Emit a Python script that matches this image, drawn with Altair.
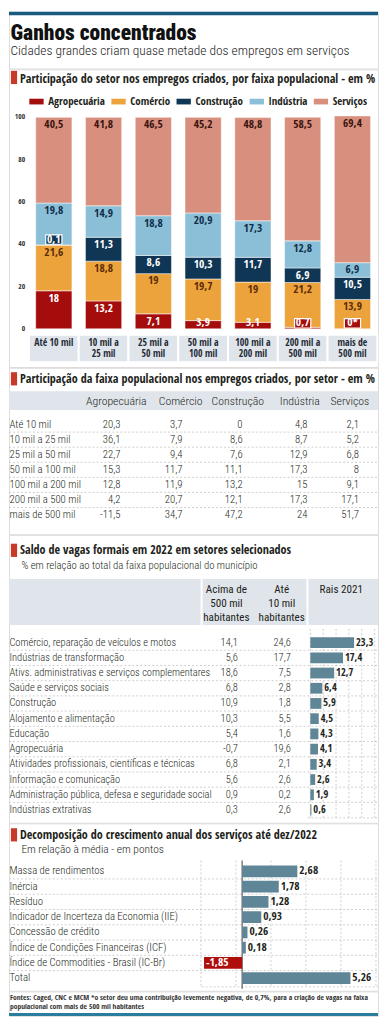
import altair as alt
import pandas as pd

# ---------------- dados ----------------
faixas = ["Até 10 mil", "10 mil a 25 mil", "25 mil a 50 mil", "50 mil a 100 mil",
          "100 mil a 200 mil", "200 mil a 500 mil", "mais de 500 mil"]
faixas_rotulo = ["Até 10 mil", "10 mil a\n25 mil", "25 mil a\n50 mil", "50 mil a\n100 mil",
                 "100 mil a\n200 mil", "200 mil a\n500 mil", "mais de\n500 mil"]
setores = ["Agropecuária", "Comércio", "Construção", "Indústria", "Serviços"]

part_agro = [18, 13.2, 7.1, 3.9, 3.1, 0.7, 0]
part_comercio = [21.6, 18.8, 19, 19.7, 19, 21.2, 13.9]
part_construcao = [0.1, 11.3, 8.6, 10.3, 11.7, 6.9, 10.5]
part_industria = [19.8, 14.9, 18.8, 20.9, 17.3, 12.8, 6.9]
part_servicos = [40.5, 41.8, 46.5, 45.2, 48.8, 58.5, 69.4]
notas_part = {("Agropecuária", "mais de 500 mil"): "*"}
eixo_y = [0, 20, 40, 60, 80, 100]

tab_agro = [20.3, 36.1, 22.7, 15.3, 12.8, 4.2, -11.5]
tab_comercio = [3.7, 7.9, 9.4, 11.7, 11.9, 20.7, 34.7]
tab_construcao = [0, 8.6, 7.6, 11.1, 13.2, 12.1, 47.2]
tab_industria = [4.8, 8.7, 12.9, 17.3, 15, 17.3, 24]
tab_servicos = [2.1, 5.2, 6.8, 8, 9.1, 17.1, 51.7]

saldo_setores = ["Comércio, reparação de veículos e motos", "Indústrias de transformação",
                 "Ativs. administrativas e serviços complementares", "Saúde e serviços sociais",
                 "Construção", "Alojamento e alimentação", "Educação", "Agropecuária",
                 "Atividades profissionais, científicas e técnicas", "Informação e comunicação",
                 "Administração pública, defesa e seguridade social", "Indústrias extrativas"]
saldo_acima_500mil = [14.1, 5.6, 18.6, 6.8, 10.9, 10.3, 5.4, -0.7, 6.8, 5.6, 0.9, 0.3]
saldo_ate_10mil = [24.6, 17.7, 7.5, 2.8, 1.8, 5.5, 1.6, 19.6, 2.1, 2.6, 0.2, 2.6]
rais_2021 = [23.3, 17.4, 12.7, 6.4, 5.9, 4.5, 4.3, 4.1, 3.4, 2.6, 1.9, 0.6]
rais_grade = [0, 6.85, 13.7, 20.55, 27.4, 34.25]

decomp_itens = ["Massa de rendimentos", "Inércia", "Resíduo", "Indicador de Incerteza da Economia (IIE)",
                "Concessão de crédito", "Índice de Condições Financeiras (ICF)",
                "Índice de Commodities - Brasil (IC-Br)", "Total"]
decomp_valores = [2.68, 1.78, 1.28, 0.93, 0.26, 0.18, -1.85, 5.26]
decomp_grade = [-2, -0.3, 1.4, 3.1, 4.8, 6.5]

# ---------------- estilo / layout ----------------
W = 371
SX = W / 387
SY = 1006 / 1022
BOLD = "Open Sans Condensed"
LIGHT = "Roboto Condensed"
TXT = "#231f20"
RED = "#c63a2a"
BAND = "#dfe5ea"
GRID = "#c4c4c4"
SLATE = "#5f8697"
NEG = "#b00d0d"
CORES = ["#a50c0c", "#eda33b", "#0f3654", "#8bbfd7", "#d88f7d"]
CORES_ROTULO = ["#ffffff", "#5b2c06", "#ffffff", "#0f2e4a", "#3a1410"]
TOPS = [0, 58, 362, 532, 826, 997, 1022]
HEAD_SIZE = 12.2


def X(x):
    return x * SX


def Y(y, top):
    return (y - top) * SY


def fmt(v):
    return f"{v:g}".replace(".", ",")


one = pd.DataFrame({"k": [0]})


def anot(texto, x, y, font=LIGHT, size=12.0, weight=300, align="left", baseline="alphabetic",
         color=TXT, lh=None):
    kw = dict(text=texto, font=font, fontSize=size, fontWeight=weight, align=align,
              baseline=baseline, color=color)
    if lh:
        kw.update(lineBreak="\n", lineHeight=lh)
    return alt.Chart(one).mark_text(**kw).encode(x=alt.value(x), y=alt.value(y))


def caixa(x0, x1, y0, y1, color):
    return alt.Chart(one).mark_rect(color=color).encode(
        x=alt.value(x0), x2=alt.value(x1), y=alt.value(y0), y2=alt.value(y1))


def linha(x0, x1, y0, y1, color=GRID, dash=(2, 2), width=0.8):
    kw = dict(color=color, strokeWidth=width)
    if dash:
        kw["strokeDash"] = list(dash)
    return alt.Chart(one).mark_rule(**kw).encode(
        x=alt.value(x0), x2=alt.value(x1), y=alt.value(y0), y2=alt.value(y1))


def cabecalho(texto, ytop, ybase, top):
    return [caixa(X(2), X(8.5), Y(ytop, top), Y(ytop + 13.5, top), RED),
            anot(texto, X(11.5), Y(ybase, top), font=BOLD, size=HEAD_SIZE, weight="bold")]


def altura(i):
    return (TOPS[i + 1] - TOPS[i]) * SY


# ---------------- painel 0: título ----------------
T0 = TOPS[0]
p0 = alt.layer(
    caixa(0, W, 0, Y(3.5, T0), "#1a5a80"),
    anot("Ganhos concentrados", X(1.5), Y(28.5, T0), font=LIGHT, size=21.6, weight=900, color="#111"),
    anot("Cidades grandes criam quase metade dos empregos em serviços", X(1.5), Y(44, T0),
         size=13.5, weight=300, color="#222"),
).properties(width=W, height=altura(0))

# ---------------- painel 1: barras empilhadas ----------------
T1 = TOPS[1]
series1 = {"Agropecuária": part_agro, "Comércio": part_comercio, "Construção": part_construcao,
           "Indústria": part_industria, "Serviços": part_servicos}
rows = []
for k, s in enumerate(setores):
    for i, f in enumerate(faixas):
        v = series1[s][i]
        rows.append(dict(faixa=f, setor=s, ord=k, value=v, label=fmt(v) + notas_part.get((s, f), "")))
df1 = pd.DataFrame(rows)

ys1 = alt.Scale(domain=[0, 100], range=[Y(323, T1), Y(107, T1)], nice=False, zero=False)
xs1 = alt.Scale(domain=faixas, range=[X(20.9), X(386.3)], paddingInner=0.272, paddingOuter=0.136)
cor_setor = alt.Scale(domain=setores, range=CORES)
cor_rotulo = alt.Scale(domain=setores, range=CORES_ROTULO)
xenc1 = alt.X("faixa:N", scale=xs1, axis=None)

leg = alt.Legend(title=None, orient="none", legendX=X(21), legendY=Y(83, T1), direction="horizontal",
                 columns=5, symbolType="M-1,-0.4L1,-0.4L1,0.4L-1,0.4Z", symbolSize=(15 * SX) ** 2,
                 symbolStrokeWidth=0, symbolOpacity=1, labelFont=BOLD, labelFontWeight="bold",
                 labelFontSize=11, labelColor=TXT, labelOffset=4.5 * SX, columnPadding=5.5, padding=0)

base1 = alt.Chart(df1).transform_stack(
    stack="value", groupby=["faixa"], sort=[alt.SortField("ord", order="ascending")], as_=["y0", "y1"]
).transform_calculate(lab="max(datum.y1 - 3.7, datum.y0 + 2.6)")

bars1 = base1.mark_bar(stroke="white", strokeWidth=0.5).encode(
    x=xenc1, y=alt.Y("y0:Q", scale=ys1, axis=None), y2="y1:Q",
    color=alt.Color("setor:N", scale=cor_setor, legend=leg))
boxes1 = base1.transform_filter("datum.value < 1").transform_calculate(
    b0="datum.lab - 2.2", b1="datum.lab + 2.2"
).mark_bar(width=X(17), stroke="white", strokeWidth=1.2).encode(
    x=xenc1, y=alt.Y("b0:Q", scale=ys1, axis=None), y2="b1:Q",
    color=alt.Color("setor:N", scale=cor_setor, legend=None))
labels1 = base1.mark_text(font=BOLD, fontWeight="bold", fontSize=11.5, baseline="middle").encode(
    x=xenc1, y=alt.Y("lab:Q", scale=ys1, axis=None), text="label:N",
    color=alt.Color("setor:N", scale=cor_rotulo, legend=None))
yticks1 = alt.Chart(pd.DataFrame({"t": eixo_y})).mark_text(
    align="right", baseline="middle", font=BOLD, fontWeight="bold", fontSize=7.5, color="#333"
).encode(x=alt.value(X(17)), y=alt.Y("t:Q", scale=ys1, axis=None), text="t:Q")
df_fx = pd.DataFrame({"faixa": faixas, "rotulo": faixas_rotulo})
cells1 = alt.Chart(df_fx).mark_bar(width=alt.RelativeBandSize(band=1 / 0.728), color=BAND,
                                   stroke="white", strokeWidth=2).encode(
    x=xenc1, y=alt.value(Y(329, T1)), y2=alt.value(Y(357, T1)))
xlab1 = alt.Chart(df_fx).mark_text(font=BOLD, fontWeight="bold", fontSize=9.8, baseline="top",
                                   lineBreak="\n", lineHeight=12 * SY, color="#1e2a36").encode(
    x=xenc1, y=alt.value(Y(332, T1)), text="rotulo:N")

p1 = alt.layer(
    *cabecalho("Participação do setor nos empregos criados, por faixa populacional - em %", 59.5, 71.5, T1),
    bars1, boxes1, labels1, yticks1, cells1, xlab1,
).resolve_scale(color="independent").properties(width=W, height=altura(1))

# ---------------- painel 2: tabela ----------------
T2 = TOPS[2]
df2 = pd.DataFrame({"faixa": faixas, "i": list(range(len(faixas))),
                    "agro": [fmt(v) for v in tab_agro], "com": [fmt(v) for v in tab_comercio],
                    "cons": [fmt(v) for v in tab_construcao], "ind": [fmt(v) for v in tab_industria],
                    "serv": [fmt(v) for v in tab_servicos]})
ys2 = alt.Scale(type="point", domain=faixas, range=[Y(420, T2), Y(512.4, T2)], padding=0)
yenc2 = alt.Y("faixa:N", scale=ys2, axis=None)
base2 = alt.Chart(df2)


def col2(campo, xr, align="right"):
    return base2.mark_text(font=LIGHT, fontWeight=300, fontSize=10.8, align=align, baseline="middle",
                           color=TXT).encode(x=alt.value(X(xr)), y=yenc2, text=f"{campo}:N")


sep2 = base2.transform_filter("datum.i < 6").mark_rule(
    yOffset=7.7 * SY, strokeDash=[2, 2], color=GRID, strokeWidth=0.8
).encode(y=yenc2, x=alt.value(0), x2=alt.value(W))
hdr2 = [anot(t, X(cx), Y(396, T2), size=11.8, weight=300, align="center", baseline="middle")
        for t, cx in zip(setores, [112.5, 180, 240, 305, 357.5])]
p2 = alt.layer(
    *cabecalho("Participação da faixa populacional nos empregos criados, por setor - em %", 366.5, 378, T2),
    caixa(0, W, Y(386, T2), Y(405, T2), BAND), *hdr2, sep2,
    col2("faixa", 0.5, "left"), col2("agro", 117), col2("com", 182), col2("cons", 245),
    col2("ind", 313), col2("serv", 367),
).properties(width=W, height=altura(2))

# ---------------- painel 3: saldo de vagas ----------------
T3 = TOPS[3]
df3 = pd.DataFrame({"setor": saldo_setores, "i": list(range(len(saldo_setores))),
                    "acima": [fmt(v) for v in saldo_acima_500mil],
                    "ate": [fmt(v) for v in saldo_ate_10mil],
                    "rais": rais_2021, "rais_lbl": [fmt(v) for v in rais_2021]})
ys3 = alt.Scale(type="point", domain=saldo_setores, range=[Y(642, T3), Y(813, T3)], padding=0)
yenc3 = alt.Y("setor:N", scale=ys3, axis=None)
xr3 = alt.Scale(domain=[0, 34.25], range=[X(316), X(383.5)], nice=False, zero=False)
base3 = alt.Chart(df3)


def col3(campo, xr, align="right"):
    return base3.mark_text(font=LIGHT, fontWeight=300, fontSize=10.5, align=align, baseline="middle",
                           color=TXT).encode(x=alt.value(X(xr)), y=yenc3, text=f"{campo}:N")


sep3 = base3.transform_filter("datum.i < 11").mark_rule(
    yOffset=7.8 * SY, strokeDash=[2, 2], color=GRID, strokeWidth=0.8
).encode(y=yenc3, x=alt.value(0), x2=alt.value(W))
grid3 = alt.Chart(pd.DataFrame({"g": rais_grade})).mark_rule(
    strokeDash=[2, 2], color=GRID, strokeWidth=0.8
).encode(x=alt.X("g:Q", scale=xr3, axis=None), y=alt.value(Y(628, T3)), y2=alt.value(Y(821, T3)))
bars3 = base3.mark_bar(height=11 * SY, color=SLATE).encode(
    x=alt.X("rais:Q", scale=xr3, axis=None), x2=alt.datum(0), y=yenc3)
lbl3 = base3.mark_text(align="left", dx=2 * SX, baseline="middle", font=BOLD, fontWeight="bold",
                       fontSize=10.5, color=TXT).encode(
    x=alt.X("rais:Q", scale=xr3, axis=None), y=yenc3, text="rais_lbl:N")
p3 = alt.layer(
    *cabecalho("Saldo de vagas formais em 2022 em setores selecionados", 541, 551.5, T3),
    anot("% em relação ao total da faixa populacional do município", X(13), Y(566.5, T3), size=10.8),
    caixa(0, W, Y(577, T3), Y(624, T3), BAND),
    linha(X(202), X(202), Y(577, T3), Y(624, T3), color="white", dash=None, width=2),
    linha(X(313), X(313), Y(577, T3), Y(624, T3), color="white", dash=None, width=2),
    anot("Acima de\n500 mil\nhabitantes", X(228), Y(582, T3), size=11.2, weight=400,
         align="center", baseline="top", lh=14.5 * SY),
    anot("Até\n10 mil\nhabitantes", X(286), Y(582, T3), size=11.2, weight=400,
         align="center", baseline="top", lh=14.5 * SY),
    anot("Rais 2021", X(348.5), Y(588, T3), size=11.2, weight=400, align="center", baseline="middle"),
    sep3, grid3, linha(X(313), W, Y(821, T3), Y(821, T3)),
    bars3, lbl3,
    col3("setor", 0.5, "left"), col3("acima", 240), col3("ate", 295.5),
).properties(width=W, height=altura(3))

# ---------------- painel 4: decomposição ----------------
T4 = TOPS[4]
df4 = pd.DataFrame({"item": decomp_itens, "i": list(range(len(decomp_itens))),
                    "v": decomp_valores, "lbl": [fmt(v) for v in decomp_valores]})
ys4 = alt.Scale(type="point", domain=decomp_itens, range=[Y(875, T4), Y(984.2, T4)], padding=0)
yenc4 = alt.Y("item:N", scale=ys4, axis=None)
xs4 = alt.Scale(domain=[-2, 6.58], range=[X(201.3), X(386.6)], nice=False, zero=False)
xenc4 = alt.X("v:Q", scale=xs4, axis=None)
base4 = alt.Chart(df4)
sep4 = base4.transform_filter("datum.i < 7").mark_rule(
    yOffset=7.8 * SY, strokeDash=[2, 2], color=GRID, strokeWidth=0.8
).encode(y=yenc4, x=alt.value(0), x2=alt.value(W))
grid4 = alt.Chart(pd.DataFrame({"g": decomp_grade})).mark_rule(
    strokeDash=[2, 2], color=GRID, strokeWidth=0.8
).encode(x=alt.X("g:Q", scale=xs4, axis=None), y=alt.value(Y(864, T4)), y2=alt.value(Y(993, T4)))
zero4 = alt.Chart(pd.DataFrame({"g": [0]})).mark_rule(color="#3a3a3a", strokeWidth=1).encode(
    x=alt.X("g:Q", scale=xs4, axis=None), y=alt.value(Y(864, T4)), y2=alt.value(Y(995, T4)))
bars4 = base4.mark_bar(height=12 * SY).encode(
    x=xenc4, x2=alt.datum(0), y=yenc4,
    color=alt.condition("datum.v < 0", alt.value(NEG), alt.value(SLATE)))
lblpos4 = base4.transform_filter("datum.v >= 0").mark_text(
    align="left", dx=2 * SX, baseline="middle", font=BOLD, fontWeight="bold", fontSize=11.5, color=TXT
).encode(x=xenc4, y=yenc4, text="lbl:N")
lblneg4 = base4.transform_filter("datum.v < 0").mark_text(
    align="left", dx=2 * SX, baseline="middle", font=BOLD, fontWeight="bold", fontSize=11.5, color="white"
).encode(x=xenc4, y=yenc4, text="lbl:N")
nomes4 = base4.mark_text(font=LIGHT, fontWeight=300, fontSize=10.8, align="left", baseline="middle",
                         color=TXT).encode(x=alt.value(X(0.5)), y=yenc4, text="item:N")
p4 = alt.layer(
    *cabecalho("Decomposição do crescimento anual dos serviços até dez/2022", 831, 842, T4),
    anot("Em relação à média - em pontos", X(13), Y(856.5, T4), size=11.5),
    sep4, grid4, linha(X(202), W, Y(993, T4), Y(993, T4)), zero4,
    bars4, lblpos4, lblneg4, nomes4,
).properties(width=W, height=altura(4))

# ---------------- painel 5: rodapé ----------------
T5 = TOPS[5]
p5 = alt.layer(
    anot("Fontes: Caged, CNC e MCM *o setor deu uma contribuição levemente negativa, de 0,7%, para a criação de vagas na faixa",
         X(1), Y(1006, T5), font=BOLD, size=7.6, weight="bold", color="#333"),
    anot("populacional com mais de 500 mil habitantes", X(1), Y(1015, T5), font=BOLD, size=7.6,
         weight="bold", color="#333"),
    caixa(0, W, Y(1019, T5), Y(1022, T5), "#2b7da0"),
).properties(width=W, height=altura(5))

chart = alt.vconcat(p0, p1, p2, p3, p4, p5, spacing=0, bounds="flush", padding=0).configure_view(
    stroke=None).configure(font=LIGHT)

chart.save("out.html", embed_options={"renderer": "svg", "actions": False})
